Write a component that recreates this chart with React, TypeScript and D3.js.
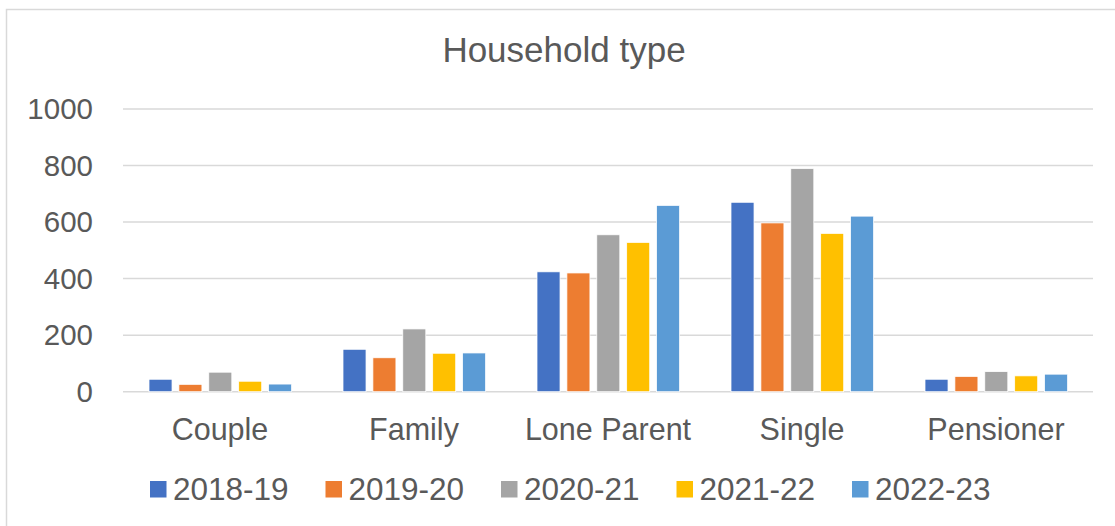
import React from 'react';
import * as d3 from 'd3';

const categories = ['Couple', 'Family', 'Lone Parent', 'Single', 'Pensioner'];
const seriesNames = ['2018-19', '2019-20', '2020-21', '2021-22', '2022-23'];
const values2018 = [44, 150, 424, 670, 44];
const values2019 = [26, 120, 420, 597, 54];
const values2020 = [69, 222, 555, 789, 71];
const values2021 = [37, 136, 528, 560, 56];
const values2022 = [27, 137, 659, 621, 62];
const yTicks = [0, 200, 400, 600, 800, 1000];
const colors = ['#4472C4', '#ED7D31', '#A5A5A5', '#FFC000', '#5B9BD5'];

const allSeries = [values2018, values2019, values2020, values2021, values2022];

const W = 1115;
const H = 526;
const FONT = '"Liberation Sans", Arial, sans-serif';
const TEXT = '#595959';
const GRID = '#D9D9D9';

export default function App() {
  const x = d3.scaleBand<string>().domain(categories).range([123, 1093]);
  const inner = d3
    .scaleBand<string>()
    .domain(seriesNames)
    .range([26, 168.6])
    .paddingInner(0.23)
    .paddingOuter(0);
  const y = d3.scaleLinear().domain([0, 1000]).range([391.7, 109]);

  // legend item positions
  const legendX = d3.scalePoint<string>().domain(seriesNames).range([150, 852]);

  return (
    <>
      <style>{`body{margin:0}`}</style>
      <svg width={W} height={H} style={{ display: 'block', fontFamily: FONT }}>
        <rect x={0} y={0} width={W} height={H} fill="#fff" />
        <rect x={6.5} y={9.5} width={1300} height={700} fill="none" stroke={GRID} strokeWidth={1.5} />

        <text x={564} y={62} textAnchor="middle" fontSize={35} fill={TEXT}>
          Household type
        </text>

        {yTicks.map((t) => (
          <g key={t}>
            <line x1={123} x2={1093} y1={y(t)} y2={y(t)} stroke={GRID} strokeWidth={1.5} />
            <text x={93} y={y(t)} dy="0.35em" textAnchor="end" fontSize={29.5} fill={TEXT}>
              {t}
            </text>
          </g>
        ))}

        {allSeries.map((vals, si) =>
          vals.map((v, ci) => (
            <rect
              key={`${si}-${ci}`}
              x={(x(categories[ci]) ?? 0) + (inner(seriesNames[si]) ?? 0)}
              y={y(v)}
              width={inner.bandwidth()}
              height={y(0) - y(v)}
              fill={colors[si]}
              stroke="#fff"
              strokeWidth={0.75}
            />
          ))
        )}

        {categories.map((c) => (
          <text
            key={c}
            x={(x(c) ?? 0) + x.bandwidth() / 2}
            y={440}
            textAnchor="middle"
            fontSize={30.5}
            fill={TEXT}
          >
            {c}
          </text>
        ))}

        {seriesNames.map((s, i) => (
          <g key={s} transform={`translate(${legendX(s)},0)`}>
            <rect x={0} y={481} width={16.5} height={16.5} fill={colors[i]} />
            <text x={23} y={500} fontSize={31.5} fill={TEXT}>
              {s}
            </text>
          </g>
        ))}
      </svg>
    </>
  );
}
